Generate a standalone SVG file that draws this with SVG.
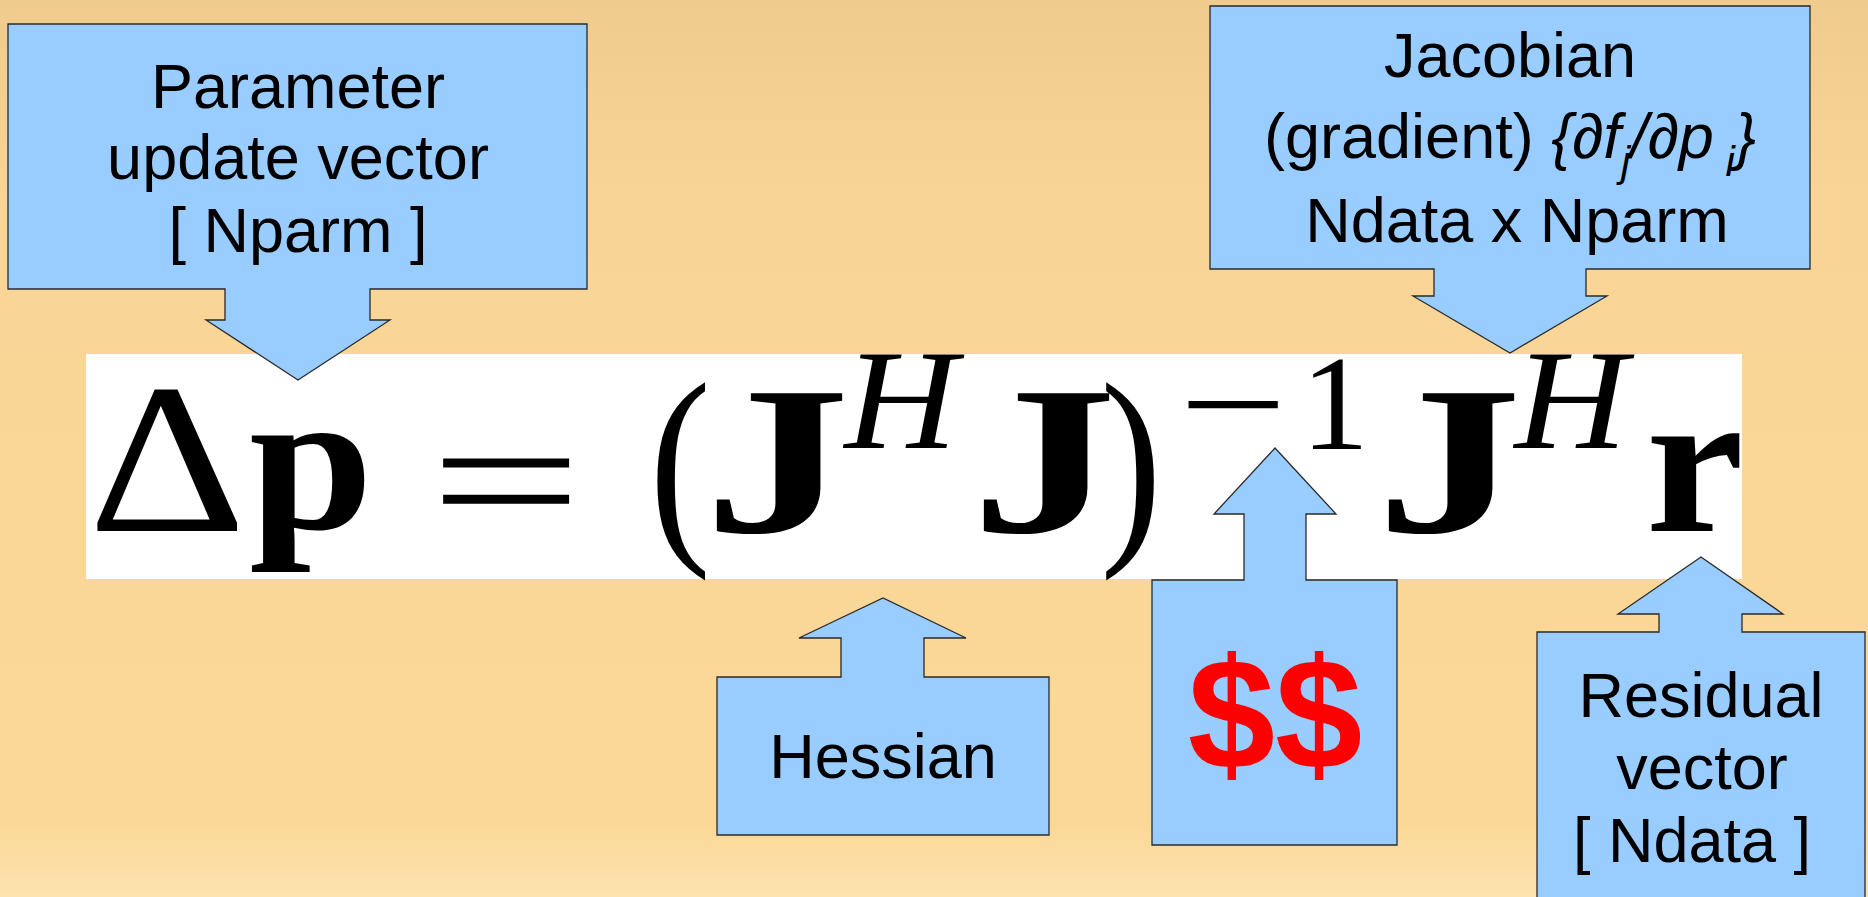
<svg xmlns="http://www.w3.org/2000/svg" width="1868" height="897" viewBox="0 0 1868 897">
<defs>
<linearGradient id="bg" x1="0" y1="0" x2="0" y2="1">
<stop offset="0" stop-color="#EFCB8E"/>
<stop offset="0.22" stop-color="#F8D596"/>
<stop offset="0.92" stop-color="#FCD898"/>
<stop offset="1" stop-color="#FDE3B0"/>
</linearGradient>
<style>
.callout{fill:#99CCFF;stroke:#2a2a2a;stroke-width:1.3;stroke-linejoin:miter}
.lbl{font-family:"Liberation Sans",Arial,sans-serif;font-size:63px;fill:#000;text-anchor:middle}
.m{font-family:"Liberation Serif","Times New Roman",serif;fill:#000;text-anchor:middle}
.b{font-weight:bold}
.i{font-style:italic}
.sub{font-style:italic;font-size:42px}
</style>
</defs>
<rect x="0" y="0" width="1868" height="897" fill="url(#bg)"/>

<g id="formula">
<rect x="86" y="354" width="1656" height="225" fill="#FFFFFF"/>
<text class="m" font-size="214" transform="translate(167,531) scale(1.15,1)">Δ</text>
<text class="m b" font-size="203" transform="translate(311,529) scale(1.1,1)">p</text>
<text class="m" font-size="205" transform="translate(506,541) scale(1.32,0.88)">=</text>
<text class="m" font-size="218" transform="translate(680,534) scale(0.85,1)">(</text>
<text class="m b" font-size="212" transform="translate(777,532) scale(1.38,1)">J</text>
<text class="m i" font-size="142" transform="translate(901,448) scale(1.1,1)">H</text>
<text class="m b" font-size="212" transform="translate(1044,532) scale(1.38,1)">J</text>
<text class="m" font-size="218" transform="translate(1131,534) scale(0.85,1)">)</text>
<text class="m" font-size="142" transform="translate(1233,452) scale(1.35,1)">−</text>
<text class="m" font-size="136" x="1335" y="449">1</text>
<text class="m b" font-size="212" transform="translate(1449,532) scale(1.38,1)">J</text>
<text class="m i" font-size="142" transform="translate(1571,448) scale(1.1,1)">H</text>
<text class="m b" font-size="205" transform="translate(1695,531) scale(1.08,1)">r</text>
</g>

<g id="connectors"></g>

<g id="node-parameter">
<polygon class="callout" points="8,24 587,24 587,289 370,289 370,320 390,320 298,380 206,320 225,320 225,289 8,289"/>
<text class="lbl" x="298" y="108">Parameter</text>
<text class="lbl" x="298" y="179">update vector</text>
<text class="lbl" x="298" y="252">[ Nparm ]</text>
</g>

<g id="node-jacobian">
<polygon class="callout" points="1210,6 1810,6 1810,269 1586,269 1586,296 1607,296 1510,353 1413,296 1434,296 1434,269 1210,269"/>
<text class="lbl" x="1510" y="77">Jacobian</text>
<text class="lbl" x="1510" y="158">(gradient) <tspan font-style="italic">{∂f</tspan><tspan class="sub" dy="18">j</tspan><tspan font-style="italic" dy="-18">/∂p</tspan><tspan class="sub" dy="18"> i</tspan><tspan font-style="italic" dy="-18">}</tspan></text>
<text class="lbl" x="1517" y="242">Ndata x Nparm</text>
</g>

<g id="node-hessian">
<polygon class="callout" points="717,677 841,677 841,638 799,638 883,598 966,638 924,638 924,677 1049,677 1049,835 717,835"/>
<text class="lbl" x="883" y="778">Hessian</text>
</g>

<g id="node-cost">
<polygon class="callout" points="1152,580 1244,580 1244,514 1214,514 1275,448 1336,514 1306,514 1306,580 1397,580 1397,845 1152,845"/>
<text x="1275" y="768" style="font-family:'Liberation Sans',Arial,sans-serif;font-weight:bold;font-size:157px;fill:#FF0000;text-anchor:middle">$$</text>
</g>

<g id="node-residual">
<polygon class="callout" points="1537,632 1659,632 1659,614 1618,614 1701,557 1783,614 1742,614 1742,632 1865,632 1865,905 1537,905"/>
<text class="lbl" x="1701" y="717">Residual</text>
<text class="lbl" x="1702" y="789">vector</text>
<text class="lbl" x="1692" y="862">[ Ndata ]</text>
</g>
</svg>
